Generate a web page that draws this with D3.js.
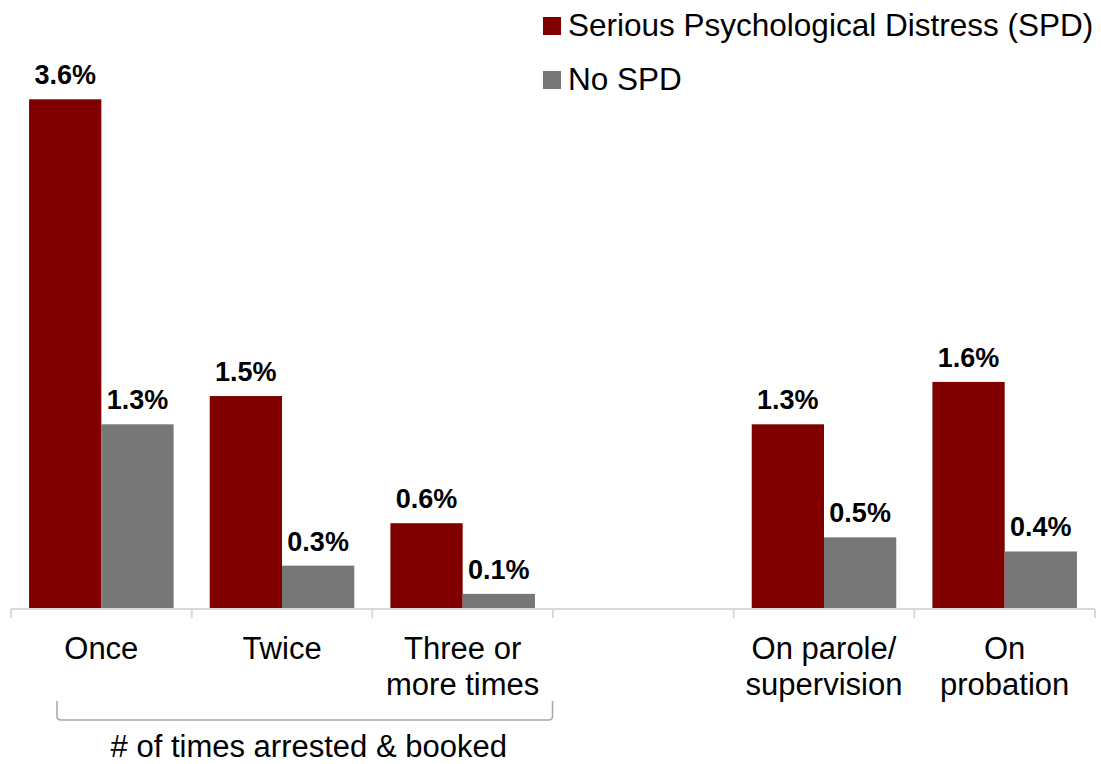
<!DOCTYPE html>
<html>
<head>
<meta charset="utf-8">
<script src="https://cdn.jsdelivr.net/npm/d3@7"></script>
<style>
  body { margin: 0; background: #fff; }
  text { font-family: "Liberation Sans", Arial, sans-serif; }
</style>
</head>
<body>
<div id="chart"></div>
<script>
// Data
const categories = ["Once", "Twice", "Three or|more times", "", "On parole/|supervision", "On|probation"];
const seriesNames = ["Serious Psychological Distress (SPD)", "No SPD"];
const spdValues = [3.6, 1.5, 0.6, null, 1.3, 1.6];
const noSpdValues = [1.3, 0.3, 0.1, null, 0.5, 0.4];
const bracketLabel = "# of times arrested & booked";
const bracketCats = ["Once", "Three or|more times"];

const colors = ["#800000", "#777777"];
const width = 1101, height = 764;
const baseY = 608;

const svg = d3.select("#chart").append("svg")
  .attr("width", width)
  .attr("height", height);

// Scales
const x = d3.scaleBand().domain(categories).range([11, 1095]).paddingInner(0).paddingOuter(0);
const xs = d3.scaleBand().domain(seriesNames).range([0, x.bandwidth()]).paddingInner(0).paddingOuter(0.25);
const y = d3.scaleLinear().domain([0, 3.6]).range([baseY, 99.3]);

const rows = categories.map((c, i) => ({cat: c, vals: [spdValues[i], noSpdValues[i]]}));

// Bars
const groups = svg.append("g").attr("class", "bars")
  .selectAll("g")
  .data(rows.filter(r => r.vals[0] != null))
  .join("g")
  .attr("transform", d => `translate(${x(d.cat)},0)`);

groups.selectAll("rect")
  .data(d => d.vals.map((v, k) => ({name: seriesNames[k], v: v, k: k})))
  .join("rect")
  .attr("x", d => xs(d.name))
  .attr("width", xs.bandwidth())
  .attr("y", d => y(d.v))
  .attr("height", d => y(0) - y(d.v))
  .attr("fill", d => colors[d.k]);

// Value labels
groups.selectAll("text")
  .data(d => d.vals.map((v, k) => ({name: seriesNames[k], v: v, k: k})))
  .join("text")
  .attr("x", d => xs(d.name) + xs.bandwidth() / 2)
  .attr("y", d => y(d.v) - 15)
  .attr("text-anchor", "middle")
  .attr("font-size", 27)
  .attr("font-weight", "bold")
  .attr("fill", "#000")
  .text(d => d.v.toFixed(1) + "%");

// Axis line and boundary ticks
const axis = svg.append("g").attr("class", "axis");
const [x0, x1] = x.range();
axis.append("line")
  .attr("x1", x0).attr("x2", x1)
  .attr("y1", baseY + 1).attr("y2", baseY + 1)
  .attr("stroke", "#d9d9d9").attr("stroke-width", 2);

const bounds = categories.map(c => x(c)).concat([x1]);
axis.selectAll("line.tick")
  .data(bounds)
  .join("line")
  .attr("class", "tick")
  .attr("x1", d => d).attr("x2", d => d)
  .attr("y1", baseY + 1).attr("y2", baseY + 10)
  .attr("stroke", "#d9d9d9").attr("stroke-width", 2);

// Category labels
axis.selectAll("text.cat")
  .data(categories.filter(c => c !== ""))
  .join("text")
  .attr("class", "cat")
  .attr("text-anchor", "middle")
  .attr("font-size", 31)
  .attr("fill", "#000")
  .each(function(c) {
    const t = d3.select(this);
    c.split("|").forEach((line, i) => {
      t.append("tspan")
        .attr("x", x(c) + x.bandwidth() / 2)
        .attr("y", 659 + i * 36)
        .text(line);
    });
  });

// Bracket under the arrest categories
const bx0 = x(bracketCats[0]) + 46, bx1 = x(bracketCats[1]) + x.bandwidth() - 0.5;
const bTop = 701, bBot = 720, r = 4;
svg.append("path")
  .attr("d", `M${bx0},${bTop} V${bBot - r} Q${bx0},${bBot} ${bx0 + r},${bBot} H${bx1 - r} Q${bx1},${bBot} ${bx1},${bBot - r} V${bTop}`)
  .attr("fill", "none")
  .attr("stroke", "#a6a6a6")
  .attr("stroke-width", 1.5);

svg.append("text")
  .attr("x", (bx0 + bx1) / 2 + 4)
  .attr("y", 757)
  .attr("text-anchor", "middle")
  .attr("font-size", 31)
  .attr("fill", "#000")
  .text(bracketLabel);

// Legend
const legend = svg.append("g").attr("class", "legend")
  .selectAll("g")
  .data(seriesNames)
  .join("g")
  .attr("transform", (d, i) => `translate(543,${17 + i * 54})`);

legend.append("rect")
  .attr("width", 18).attr("height", 18)
  .attr("fill", (d, i) => colors[i]);

legend.append("text")
  .attr("x", 25)
  .attr("y", 19)
  .attr("font-size", 31.5)
  .attr("fill", "#000")
  .text(d => d);
</script>
</body>
</html>
